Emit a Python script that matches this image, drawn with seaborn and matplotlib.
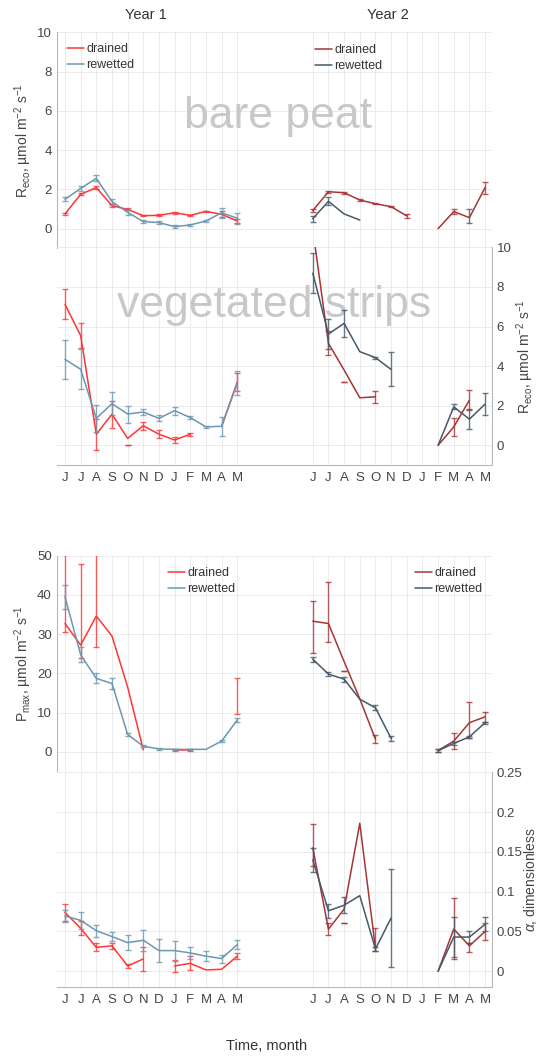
import numpy as np
import pandas as pd
import matplotlib
matplotlib.use('Agg')
import matplotlib.pyplot as plt
from matplotlib.lines import Line2D
import seaborn as sns

nan = np.nan

month_labels = ['J', 'J', 'A', 'S', 'O', 'N', 'D', 'J', 'F', 'M', 'A', 'M']
legend_labels = ['drained', 'rewetted']
year2_start = 15.82  # x position of the first June of year 2

# R_eco, bare peat
reco_bare_dr1 = [0.75, 1.75, 2.09, 1.17, 0.98, 0.66, 0.68, 0.81, 0.68, 0.88, 0.73, 0.39]
reco_bare_dr1_err = [0.05, 0.06, 0.07, 0.08, 0.05, 0.04, 0.05, 0.05, 0.03, 0.04, 0.15, 0.12]
reco_bare_rw1 = [1.49, 2.05, 2.56, 1.38, 0.83, 0.36, 0.31, 0.10, 0.19, 0.39, 0.81, 0.53]
reco_bare_rw1_err = [0.10, 0.12, 0.15, 0.15, 0.12, 0.06, 0.06, 0.08, 0.05, 0.04, 0.25, 0.28]
reco_bare_dr2 = [0.92, 1.88, 1.83, 1.46, 1.27, 1.12, 0.65, nan, 0.0, 0.87, 0.56, 2.09]
reco_bare_dr2_err = [0.06, 0.05, 0.05, 0.03, 0.03, 0.03, 0.10, nan, nan, 0.12, nan, 0.30]
reco_bare_rw2 = [0.51, 1.39, 0.75, 0.44, nan, nan, nan, nan, nan, nan, 0.65, nan]
reco_bare_rw2_err = [0.15, 0.20, nan, nan, nan, nan, nan, nan, nan, nan, 0.34, nan]

# R_eco, vegetated strips
reco_veg_dr1 = [7.12, 5.54, 0.56, 1.57, 0.35, 0.99, 0.56, 0.27, 0.56, nan, 0.95, 3.20]
reco_veg_dr1_err = [0.75, 0.63, 0.78, 0.68, nan, 0.20, 0.20, 0.15, 0.07, nan, nan, 0.45]
reco_veg_rw1 = [4.34, 3.84, 1.36, 2.10, 1.58, 1.68, 1.36, 1.75, 1.40, 0.93, 0.96, 3.13]
reco_veg_rw1_err = [0.97, 1.00, 0.70, 0.57, 0.43, 0.17, 0.15, 0.20, 0.08, 0.05, 0.47, 0.60]
reco_veg_dr2 = [10.9, 5.15, 3.80, 2.40, 2.45, nan, nan, nan, 0.0, 0.93, 2.28, nan]
reco_veg_dr2_err = [nan, 0.60, nan, nan, 0.30, nan, nan, nan, nan, 0.47, 0.50, nan]
reco_veg_rw2 = [8.69, 5.62, 6.16, 4.73, 4.43, 3.83, nan, nan, 0.0, 1.94, 1.32, 2.08]
reco_veg_rw2_err = [1.00, 0.78, 0.67, nan, 0.05, 0.86, nan, nan, nan, 0.13, 0.50, 0.57]
reco_veg_caps_dr = [(1, 4, 0.03), (2, 2, 3.18)]  # (year, month index, value)

# P_max
pmax_dr1 = [32.7, 27.2, 34.6, 29.5, 16.5, 0.5, nan, 0.4, 0.4, nan, nan, 14.2]
pmax_dr1_lo = [2.1, 3.2, 7.8, nan, nan, nan, nan, 0.3, 0.3, nan, nan, 4.7]
pmax_dr1_hi = [20.0, 20.8, 18.0, nan, nan, nan, nan, 0.3, 0.3, nan, nan, 4.7]
pmax_rw1 = [39.5, 24.7, 18.7, 17.4, 4.4, 1.4, 0.7, 0.6, 0.6, 0.6, 2.7, 8.1]
pmax_rw1_err = [3.0, 1.9, 1.3, 1.4, 0.3, 0.2, 0.2, 0.2, 0.2, nan, 0.3, 0.5]
pmax_dr2 = [33.3, 32.7, 23.0, 13.5, 3.2, nan, nan, nan, 0.3, 2.7, 7.4, 8.9]
pmax_dr2_lo = [8.0, 4.6, nan, nan, 1.1, nan, nan, nan, 0.5, 2.0, 4.0, 1.2]
pmax_dr2_hi = [5.1, 10.7, nan, nan, 1.1, nan, nan, nan, 0.5, 2.0, 5.2, 1.2]
pmax_rw2 = [23.6, 19.8, 18.5, 13.4, 11.2, 3.4, nan, nan, 0.3, 2.1, 3.8, 7.4]
pmax_rw2_err = [0.6, 0.6, 0.6, nan, 0.6, 0.6, nan, nan, 0.3, 0.4, 0.3, 0.3]
pmax_caps_dr = [(2, 2, 20.6)]

# alpha
alpha_dr1 = [0.074, 0.054, 0.030, 0.032, 0.0067, 0.0155, nan, 0.0067, 0.010, 0.0017, 0.0025, 0.019]
alpha_dr1_err = [0.011, 0.009, 0.005, 0.004, 0.003, 0.0155, nan, 0.008, 0.009, nan, nan, 0.004]
alpha_rw1 = [0.0695, 0.064, 0.051, 0.0436, 0.036, 0.039, 0.026, 0.026, 0.023, 0.019, 0.016, 0.0335]
alpha_rw1_err = [0.008, 0.011, 0.0075, 0.0055, 0.009, 0.013, 0.014, 0.0125, 0.008, 0.0065, 0.005, 0.006]
alpha_dr2 = [0.155, 0.053, 0.078, 0.186, 0.029, nan, nan, nan, 0.0, 0.053, 0.032, 0.050]
alpha_dr2_lo = [0.023, 0.008, nan, nan, 0.003, nan, nan, nan, nan, 0.038, 0.008, 0.011]
alpha_dr2_hi = [0.030, 0.008, nan, nan, 0.025, nan, nan, nan, nan, 0.039, 0.004, 0.011]
alpha_rw2 = [0.140, 0.076, 0.083, 0.095, 0.028, 0.067, nan, nan, 0.0, 0.043, 0.043, 0.059]
alpha_rw2_err = [0.015, 0.009, 0.010, nan, 0.003, 0.062, nan, nan, nan, 0.025, 0.007, 0.009]
alpha_caps_dr = [(2, 2, 0.061)]
alpha_tick_labels = ['0', '0.05', '0.1', '0.15', '0.2', '0.25']

C_DR1 = '#ff3535'
C_RW1 = '#6b97b0'
C_DR2 = '#a83434'
C_RW2 = '#45596a'
GREY_TXT = '#444444'

W, H = 538, 1056
sns.set_theme(style='whitegrid')
plt.rcParams['font.family'] = ['Liberation Sans', 'DejaVu Sans']
plt.rcParams['mathtext.fontset'] = 'custom'
plt.rcParams['mathtext.rm'] = 'Liberation Sans'
plt.rcParams['mathtext.it'] = 'Liberation Sans:italic'
plt.rcParams['mathtext.bf'] = 'Liberation Sans:bold'

fig = plt.figure(figsize=(W / 100, H / 100), dpi=100)
xpos = list(range(12)) + [year2_start + i for i in range(12)]


def px_axes(left, top, right, bottom):
    return fig.add_axes([left / W, 1 - bottom / H, (right - left) / W, (bottom - top) / H])


def month_x(year):
    return np.arange(12) + (0.0 if year == 1 else year2_start)


def draw_series(ax, year, values, err_lo, color, err_hi=None):
    x = month_x(year)
    v = np.asarray(values, float)
    df = pd.DataFrame({'x': x, 'v': v, 'seg': np.cumsum(np.isnan(v))}).dropna()
    sns.lineplot(data=df, x='x', y='v', units='seg', estimator=None, sort=False,
                 color=color, linewidth=1.1, ax=ax, legend=False)
    lo = np.asarray(err_lo, float)
    hi = lo if err_hi is None else np.asarray(err_hi, float)
    ok = ~np.isnan(lo)
    ax.errorbar(x[ok], v[ok], yerr=[lo[ok], hi[ok]], fmt='none', ecolor=color,
                elinewidth=1.0, capsize=2, capthick=1.0, alpha=0.8)


def draw_caps(ax, caps, colors):
    for year, i, val in caps:
        ax.errorbar([month_x(year)[i]], [val], yerr=[[0], [0]], fmt='none',
                    ecolor=colors[year], capsize=2, capthick=1.0, alpha=0.8)


def style_axis(ax, ylim, yticks, side, show_x, ylabel, label_x):
    ax.set_facecolor('none')
    ax.set_xlim(-0.51, 27.23)
    ax.set_ylim(*ylim)
    ax.set_xticks(xpos)
    ax.set_xticklabels(month_labels * 2 if show_x else [])
    ax.set_yticks(yticks)
    ax.grid(True, color='#ebebeb', linewidth=0.7)
    ax.set_axisbelow(True)
    for s in ax.spines.values():
        s.set_visible(False)
        s.set_color('#b8b8b8')
        s.set_linewidth(0.8)
    ax.spines[side].set_visible(True)
    if show_x:
        ax.spines['bottom'].set_visible(True)
    ax.tick_params(axis='both', length=0, colors=GREY_TXT, labelsize=9.5)
    ax.tick_params(axis='y', pad=3.8)
    ax.tick_params(axis='x', pad=5)
    if side == 'right':
        ax.yaxis.tick_right()
        ax.yaxis.set_label_position('right')
    ax.set_xlabel('')
    ax.set_ylabel(ylabel, fontsize=10, color=GREY_TXT)
    ax.yaxis.set_label_coords(label_x, 0.5)


reco_label = r'R$_{\mathregular{eco}}$, µmol m$^{\mathregular{-2}}$ s$^{\mathregular{-1}}$'
pmax_label = r'P$_{\mathregular{max}}$, µmol m$^{\mathregular{-2}}$ s$^{\mathregular{-1}}$'

ax1 = px_axes(57, 32.3, 491.5, 248.3)
ax2 = px_axes(57, 247.3, 491.5, 465.1)
ax3 = px_axes(57, 555.7, 491.5, 771.3)
ax4 = px_axes(57, 772.3, 491.5, 987.2)

draw_series(ax1, 1, reco_bare_dr1, reco_bare_dr1_err, C_DR1)
draw_series(ax1, 1, reco_bare_rw1, reco_bare_rw1_err, C_RW1)
draw_series(ax1, 2, reco_bare_dr2, reco_bare_dr2_err, C_DR2)
draw_series(ax1, 2, reco_bare_rw2, reco_bare_rw2_err, C_RW2)

draw_series(ax2, 1, reco_veg_dr1, reco_veg_dr1_err, C_DR1)
draw_series(ax2, 1, reco_veg_rw1, reco_veg_rw1_err, C_RW1)
draw_series(ax2, 2, reco_veg_dr2, reco_veg_dr2_err, C_DR2)
draw_series(ax2, 2, reco_veg_rw2, reco_veg_rw2_err, C_RW2)
draw_caps(ax2, reco_veg_caps_dr, {1: C_DR1, 2: C_DR2})

draw_series(ax3, 1, pmax_dr1, pmax_dr1_lo, C_DR1, pmax_dr1_hi)
draw_series(ax3, 1, pmax_rw1, pmax_rw1_err, C_RW1)
draw_series(ax3, 2, pmax_dr2, pmax_dr2_lo, C_DR2, pmax_dr2_hi)
draw_series(ax3, 2, pmax_rw2, pmax_rw2_err, C_RW2)
draw_caps(ax3, pmax_caps_dr, {1: C_DR1, 2: C_DR2})

draw_series(ax4, 1, alpha_dr1, alpha_dr1_err, C_DR1)
draw_series(ax4, 1, alpha_rw1, alpha_rw1_err, C_RW1)
draw_series(ax4, 2, alpha_dr2, alpha_dr2_lo, C_DR2, alpha_dr2_hi)
draw_series(ax4, 2, alpha_rw2, alpha_rw2_err, C_RW2)
draw_caps(ax4, alpha_caps_dr, {1: C_DR1, 2: C_DR2})

style_axis(ax1, (-1, 10), np.arange(0, 11, 2), 'left', False, reco_label, (34 - 57) / 434.5)
style_axis(ax2, (-1, 10), np.arange(0, 11, 2), 'right', True, reco_label, (514 - 57) / 434.5)
style_axis(ax3, (-5, 50), np.arange(0, 51, 10), 'left', False, pmax_label, (34 - 57) / 434.5)
style_axis(ax4, (-0.02, 0.25), np.arange(0, 0.26, 0.05), 'right', True,
           r'$\alpha$, dimensionless', (522 - 57) / 434.5)
ax4.set_yticklabels(alpha_tick_labels)

ax1.text(277.5 / W, 1 - 128 / H, 'bare peat', transform=fig.transFigure, ha='center',
         va='baseline', fontsize=32, color='#c8c8c8', zorder=1, clip_on=False)
ax2.text(274 / W, 1 - 317 / H, 'vegetated strips', transform=fig.transFigure, ha='center',
         va='baseline', fontsize=32, color='#c8c8c8', zorder=1, clip_on=False)


def add_legend(colors, x, y):
    handles = [Line2D([], [], color=c, linewidth=1.1) for c in colors]
    fig.legend(handles, legend_labels, loc='upper left', bbox_to_anchor=(x / W, 1 - y / H),
               bbox_transform=fig.transFigure, frameon=False, fontsize=9,
               handlelength=1.35, handletextpad=0.2, labelspacing=0.32,
               borderpad=0, borderaxespad=0, labelcolor='#333333')


add_legend([C_DR1, C_RW1], 67, 43)
add_legend([C_DR2, C_RW2], 315, 44)
add_legend([C_DR1, C_RW1], 168, 567)
add_legend([C_DR2, C_RW2], 415, 567)

fig.text(146 / W, 1 - 15 / H, 'Year 1', ha='center', va='center', fontsize=10.5, color='#333333')
fig.text(388 / W, 1 - 15 / H, 'Year 2', ha='center', va='center', fontsize=10.5, color='#333333')
fig.text(267 / W, 1 - 1046 / H, 'Time, month', ha='center', va='center', fontsize=10.5, color='#333333')

fig.savefig('out.png', dpi=100)
